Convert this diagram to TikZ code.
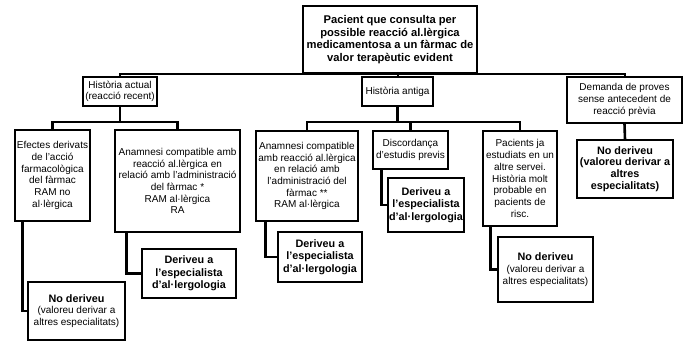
\documentclass[tikz,border=0pt]{standalone}
\usepackage{fontspec}
\setmainfont{Liberation Sans}
\begin{document}
\begin{tikzpicture}[x=1pt,y=-1pt,
  box/.style={draw, line width=1.4pt, fill=white, align=center, inner sep=1pt,
    font=\fontsize{10}{11.7}\selectfont},
  bbox/.style={box, font=\fontsize{10.8}{12.6}\selectfont\bfseries},
  conn/.style={line width=2.6pt},
  topline/.style={line width=2pt}]
\useasboundingbox[fill=white] (0,0) rectangle (683,342);
% level 0
\node[box, line width=1.8pt, minimum width=174pt, minimum height=67pt,
  font=\fontsize{11.2}{12.6}\selectfont\bfseries] (top) at (390,39.5)
  {Pacient que consulta per\\possible reacció al.lèrgica\\medicamentosa a un fàrmac de\\valor terapèutic evident};
% level 1
\node[box, minimum width=74pt, minimum height=29pt] (HA) at (120,91.5) {Història actual\\(reacció recent)};
\node[box, minimum width=71pt, minimum height=29pt] (HB) at (397.5,91.5) {Història antiga};
\node[box, minimum width=115pt, minimum height=46pt] (DEM) at (624.5,100) {Demanda de proves\\sense antecedent de\\reacció prèvia};
% level 2
\node[box, minimum width=75pt, minimum height=91pt] (E1) at (52.5,175.5) {Efectes derivats\\de l’acció\\farmacològica\\del fàrmac\\RAM no\\al·lèrgica};
\node[box, minimum width=125pt, minimum height=102pt] (A1) at (177.5,181) {Anamnesi compatible amb\\reacció al.lèrgica en\\relació amb l’administració\\del fàrmac *\\RAM al·lèrgica\\RA};
\node[box, minimum width=102pt, minimum height=90pt] (A2) at (307,176) {Anamnesi compatible\\amb reacció al.lèrgica\\en relació amb\\l’administració del\\fàrmac **\\RAM al·lèrgica};
\node[box, minimum width=75pt, minimum height=38pt] (DIS) at (410.5,150) {Discordança\\d’estudis previs};
\node[box, minimum width=74pt, minimum height=95pt] (PAC) at (520,178.5) {Pacients ja\\estudiats en un\\altre servei.\\Història molt\\probable en\\pacients de\\risc.};
\node[bbox, minimum width=96pt, minimum height=58pt, font=\fontsize{10.8}{11.7}\selectfont\bfseries] (ND4) at (625,169) {No deriveu\\(valoreu derivar a\\altres\\especialitats)};
% level 3
\node[box, minimum width=97pt, minimum height=58pt] (ND1) at (76.5,311) {\textbf{\fontsize{10.8}{11.7}\selectfont No deriveu}\\(valoreu derivar a\\altres especialitats)};
\node[bbox, minimum width=94pt, minimum height=49pt] (D1) at (189,273.5) {Deriveu a\\l’especialista\\d’al·lergologia};
\node[bbox, minimum width=84pt, minimum height=50pt] (D2) at (320,257) {Deriveu a\\l’especialista\\d’al·lergologia};
\node[bbox, minimum width=76pt, minimum height=54pt] (D3) at (426,205) {Deriveu a\\l’especialista\\d’al·lergologia};
\node[box, minimum width=95pt, minimum height=65pt] (ND2) at (545.5,269.5) {\textbf{\fontsize{10.8}{11.7}\selectfont No deriveu}\\(valoreu derivar a\\altres especialitats)};
% connectors
\coordinate (t) at (120,74);
\draw[topline] (HA.north) |- (t) -| (DEM.north);
\draw[topline] (t) -| (HB.north);
\coordinate (hA) at (120,122);
\draw[conn] (HA.south) -- (hA);
\draw[conn] (E1.north) |- (hA) -| (A1.north);
\coordinate (hB) at (397.5,122);
\draw[conn] (HB.south) -- (hB);
\draw[conn] (A2.north) |- (hB) -| (PAC.north);
\draw[conn] (DIS.north) -- (DIS.north |- hB);
\draw[conn] (DEM.south) -- (ND4.north);
\draw[conn] ([xshift=8pt]E1.south west) |- (ND1.west);
\draw[conn] ([xshift=12pt]A1.south west) |- (D1.west);
\draw[conn] ([xshift=10pt]A2.south west) |- (D2.west);
\draw[conn] ([xshift=9pt]DIS.south west) |- (D3.west);
\draw[conn] ([xshift=8pt]PAC.south west) |- (ND2.west);
\end{tikzpicture}
\end{document}
